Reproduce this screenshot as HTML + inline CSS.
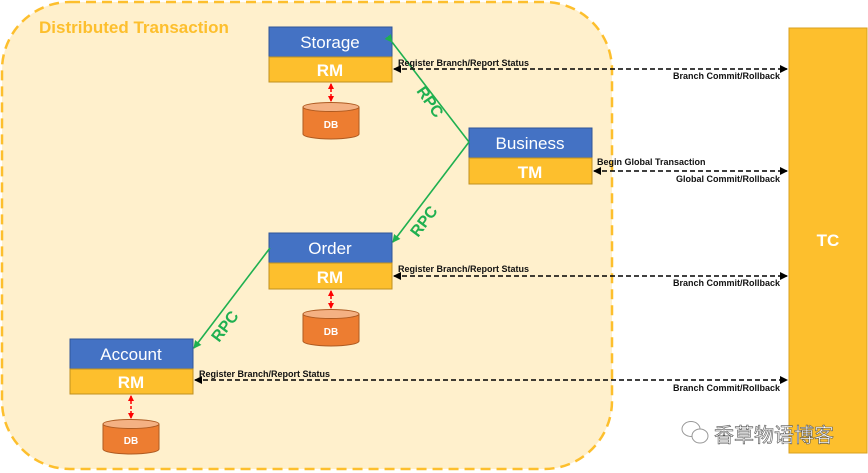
<!DOCTYPE html>
<html><head><meta charset="utf-8"><style>
body{margin:0;background:#fff;}
svg{display:block;font-family:"Liberation Sans","Noto Sans CJK SC",sans-serif;}
.t{font-size:9px;font-weight:bold;fill:#111}
.big{font-size:17px;fill:#fff}
.rm{font-size:17px;font-weight:bold;fill:#fff}
.db{font-size:10px;font-weight:bold;fill:#fff}
.rpc{font-size:16px;font-weight:bold;fill:#1fb050}
</style></head><body>
<svg width="868" height="473" viewBox="0 0 868 473">
<defs>
<marker id="ga" markerWidth="8" markerHeight="8" refX="7" refY="4" orient="auto" markerUnits="userSpaceOnUse"><path d="M0,0 L8,4 L0,8z" fill="#1fb050"/></marker>
<marker id="ka" markerWidth="8" markerHeight="8" refX="7" refY="4" orient="auto-start-reverse" markerUnits="userSpaceOnUse"><path d="M0,0 L8,4 L0,8z" fill="#000"/></marker>
<marker id="ra" markerWidth="6" markerHeight="6" refX="5" refY="3" orient="auto-start-reverse" markerUnits="userSpaceOnUse"><path d="M0,0 L6,3 L0,6z" fill="#f00"/></marker>
</defs>
<rect x="2" y="2" width="610" height="467" rx="68" fill="#fff0cc" stroke="#fdbf2d" stroke-width="2.5" stroke-dasharray="10,6"/>
<text x="39" y="33" font-size="17" font-weight="bold" fill="#fdbf2d">Distributed Transaction</text>
<rect x="789" y="28" width="78" height="425" fill="#fdbf2d" stroke="#d9a020"/>
<text x="828" y="246" class="rm" text-anchor="middle" font-size="15">TC</text>

<g stroke="#2f5597" stroke-width="1">
<rect x="269" y="27" width="123" height="30" fill="#4472c4"/>
<rect x="469" y="128" width="123" height="30" fill="#4472c4"/>
<rect x="269" y="233" width="123" height="30" fill="#4472c4"/>
<rect x="70" y="339" width="123" height="30" fill="#4472c4"/>
</g>
<g stroke="#c09020" stroke-width="1" fill="#fdbf2d">
<rect x="269" y="57" width="123" height="25"/>
<rect x="469" y="158" width="123" height="26"/>
<rect x="269" y="263" width="123" height="26"/>
<rect x="70" y="369" width="123" height="25"/>
</g>
<text x="330" y="48" class="big" text-anchor="middle">Storage</text>
<text x="530" y="149" class="big" text-anchor="middle">Business</text>
<text x="330" y="254" class="big" text-anchor="middle">Order</text>
<text x="131" y="360" class="big" text-anchor="middle">Account</text>
<text x="330" y="76" class="rm" text-anchor="middle">RM</text>
<text x="530" y="178" class="rm" text-anchor="middle">TM</text>
<text x="330" y="283" class="rm" text-anchor="middle">RM</text>
<text x="131" y="388" class="rm" text-anchor="middle">RM</text>

<g fill="#ed7d31" stroke="#ae5a21">
<path d="M303,107 v27 a28,5 0 0 0 56,0 v-27"/><ellipse cx="331" cy="107" rx="28" ry="4.5" fill="#f4b183"/>
<path d="M303,314 v27 a28,5 0 0 0 56,0 v-27"/><ellipse cx="331" cy="314" rx="28" ry="4.5" fill="#f4b183"/>
<path d="M103,424 v25 a28,5 0 0 0 56,0 v-25"/><ellipse cx="131" cy="424" rx="28" ry="4.5" fill="#f4b183"/>
</g>
<text x="331" y="128" class="db" text-anchor="middle">DB</text>
<text x="331" y="335" class="db" text-anchor="middle">DB</text>
<text x="131" y="444" class="db" text-anchor="middle">DB</text>
<g stroke="#f00" stroke-width="1.5" stroke-dasharray="3,2">
<line x1="331" y1="84" x2="331" y2="101" marker-start="url(#ra)" marker-end="url(#ra)"/>
<line x1="331" y1="291" x2="331" y2="308" marker-start="url(#ra)" marker-end="url(#ra)"/>
<line x1="131" y1="396" x2="131" y2="418" marker-start="url(#ra)" marker-end="url(#ra)"/>
</g>

<g stroke="#1fb050" stroke-width="1.6" fill="none">
<polyline points="392,42 469,142"  marker-start="url(#ga)"/>
<line x1="469" y1="142" x2="393" y2="242" marker-end="url(#ga)"/>
<line x1="270" y1="248" x2="194" y2="348" marker-end="url(#ga)"/>
</g>
<text class="rpc" transform="translate(416,91) rotate(55)">RPC</text>
<text class="rpc" transform="translate(418,238) rotate(-53)">RPC</text>
<text class="rpc" transform="translate(219,343) rotate(-53)">RPC</text>

<g stroke="#000" stroke-width="1.6" stroke-dasharray="5,3">
<line x1="394" y1="69" x2="787" y2="69" marker-start="url(#ka)" marker-end="url(#ka)"/>
<line x1="594" y1="171" x2="787" y2="171" marker-start="url(#ka)" marker-end="url(#ka)"/>
<line x1="394" y1="276" x2="787" y2="276" marker-start="url(#ka)" marker-end="url(#ka)"/>
<line x1="195" y1="380" x2="787" y2="380" marker-start="url(#ka)" marker-end="url(#ka)"/>
</g>
<text x="398" y="66" class="t">Register Branch/Report Status</text>
<text x="780" y="79" class="t" text-anchor="end">Branch Commit/Rollback</text>
<text x="597" y="165" class="t">Begin Global Transaction</text>
<text x="780" y="182" class="t" text-anchor="end">Global Commit/Rollback</text>
<text x="398" y="272" class="t">Register Branch/Report Status</text>
<text x="780" y="286" class="t" text-anchor="end">Branch Commit/Rollback</text>
<text x="199" y="377" class="t">Register Branch/Report Status</text>
<text x="780" y="391" class="t" text-anchor="end">Branch Commit/Rollback</text>

<g stroke="#999" fill="#fff" stroke-width="1">
<ellipse cx="691" cy="429" rx="9" ry="7.5"/>
<ellipse cx="700" cy="436" rx="8" ry="7"/>
</g>
<text x="714" y="442" font-size="20" fill="#fff" stroke="#555" stroke-width="0.6">香草物语博客</text>
</svg>
</body></html>
